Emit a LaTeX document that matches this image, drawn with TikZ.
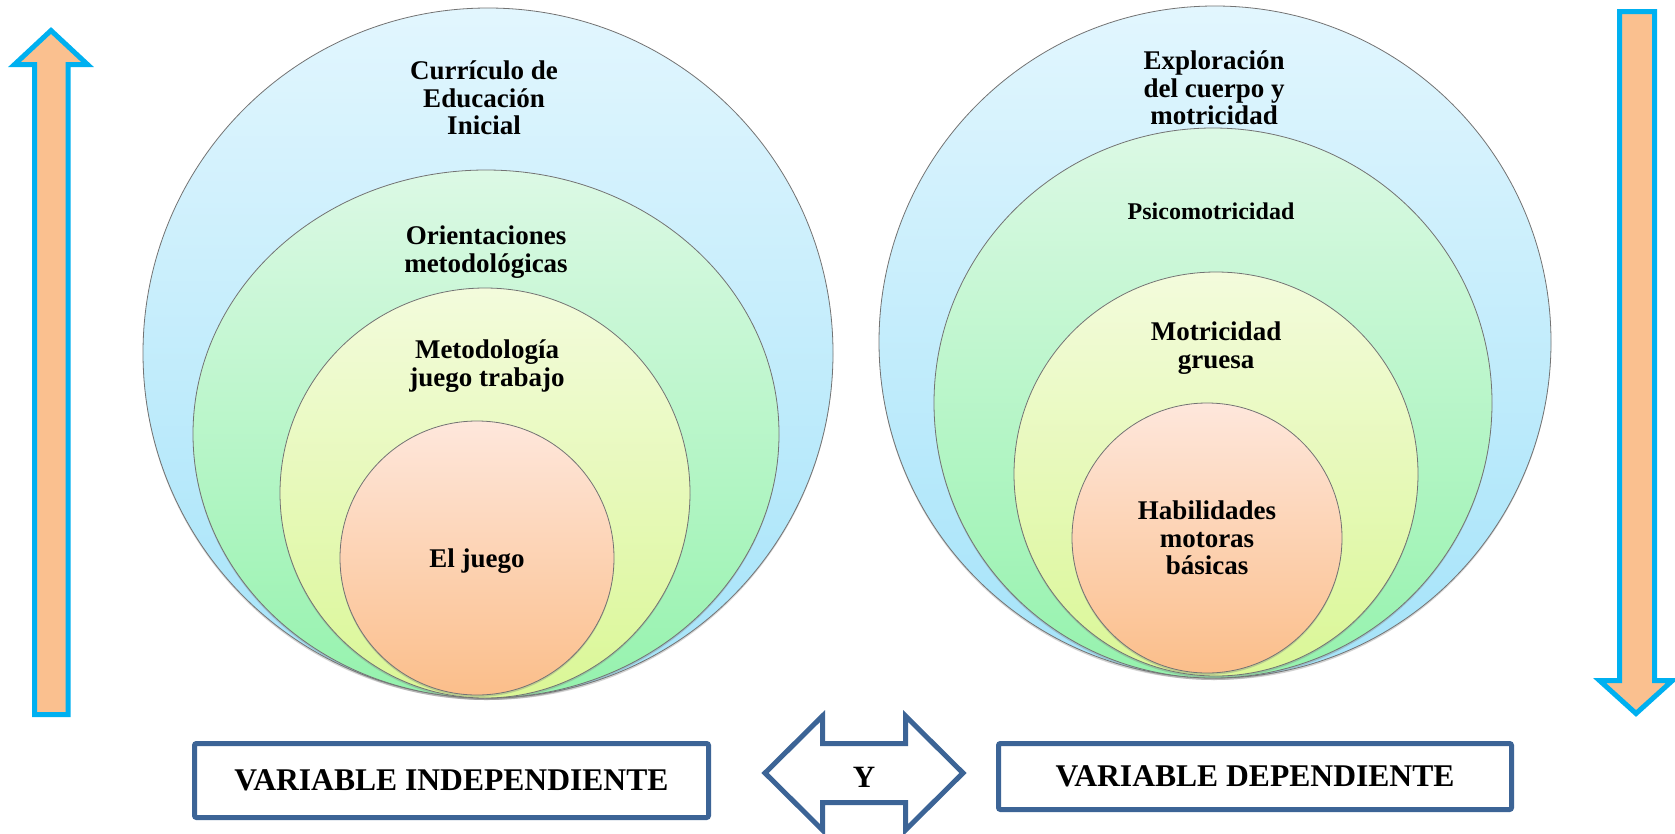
\documentclass[tikz,border=0pt]{standalone}
\usepackage{fontspec}
\setmainfont{Liberation Serif}
\usetikzlibrary{shapes.geometric,shadows}
\definecolor{skytop}{HTML}{E2F6FE}
\definecolor{skybot}{HTML}{A4E3F9}
\definecolor{mintop}{HTML}{DCF9E5}
\definecolor{minbot}{HTML}{95F2AD}
\definecolor{limtop}{HTML}{F3FBDC}
\definecolor{limbot}{HTML}{DAF796}
\definecolor{pchtop}{HTML}{FEE7DC}
\definecolor{pchbot}{HTML}{FBBE8A}
\definecolor{arrowblue}{HTML}{00B0F0}
\definecolor{arrowfill}{HTML}{FAC08F}
\definecolor{navy}{HTML}{3C6496}
\tikzset{
  ring/.style   = {draw=black!55, line width=0.8pt, inner sep=0pt,
                   drop shadow={shadow xshift=0pt, shadow yshift=-2pt, opacity=.35}},
  disc/.style   = {ring, circle, minimum size=#1},
  oval/.style 2 args = {ring, ellipse, minimum width=#1, minimum height=#2},
  sky/.style    = {top color=skytop, bottom color=skybot},
  mint/.style   = {top color=mintop, bottom color=minbot},
  lime/.style   = {top color=limtop, bottom color=limbot},
  peach/.style  = {top color=pchtop, bottom color=pchbot},
  lbl/.style    = {align=center, inner sep=0pt, font=\bfseries\fontsize{27}{27.5}\selectfont},
  varbox/.style = {draw=navy, line width=5pt, rounded corners=2pt, fill=white, minimum width=#1,
                   inner sep=0pt, font=\bfseries\fontsize{31.6}{33}\selectfont},
  bigarrow/.style = {draw=arrowblue, fill=arrowfill, line width=5pt},
}

\begin{document}
\begin{tikzpicture}[x=1pt, y=-1pt]
    \path[use as bounding box, fill=white] (0,0) rectangle (1675,833);

    \draw[bigarrow] (34.5,714.5) -- (34.5,64.5) -- (14.5,64.5) -- (51,30.5) -- (87.5,64.5)
        -- (68,64.5) -- (68,714.5) -- cycle;
    \draw[bigarrow] (1619.5,11.5) -- (1654.5,11.5) -- (1654.5,680.5) -- (1672.5,680.5)
        -- (1636,713.5) -- (1599.5,680.5) -- (1619.5,680.5) -- cycle;

    \node[disc=690pt, sky] (curriculo) at (488,353) {};
    \node[oval={586pt}{528pt}, mint] (orient) at (486,434) {};
    \node[disc=410pt, lime] (metodo) at (485,493) {};
    \node[disc=274pt, peach] (juego) at (477,558) {};

    \node[disc=672pt, sky] (explor) at (1215,342) {};
    \node[oval={558pt}{550pt}, mint] (psico) at (1213,403) {};
    \node[disc=404pt, lime] (motri) at (1216,474) {};
    \node[disc=270pt, peach] (habil) at (1207,538) {};

    \node[lbl] (curriculo-t) at (484,98) {Currículo de\\Educación\\Inicial};
    \node[lbl] (orient-t) at (486,252) {Orientaciones\\metodológicas};
    \node[lbl] (metodo-t) at (487,366) {Metodología\\juego trabajo};
    \node[lbl] (juego-t) at (477,561) {El juego};

    \node[lbl] (explor-t) at (1214,88) {Exploración\\del cuerpo y\\motricidad};
    \node[lbl, font=\bfseries\fontsize{24}{26}\selectfont] (psico-t) at (1211,211) {Psicomotricidad};
    \node[lbl] (motri-t) at (1216,348) {Motricidad\\gruesa};
    \node[lbl] (habil-t) at (1207,538) {Habilidades\\motoras\\básicas};

    \node[varbox=514pt, minimum height=74pt] (indep) at (451.5,780.5) {VARIABLE INDEPENDIENTE};
    \node[varbox=513pt, minimum height=66pt] (dep) at (1255,776.5) {VARIABLE DEPENDIENTE};

    \draw[draw=navy, line width=5pt, fill=white] (765,773) -- (822.5,716) -- (822.5,743.5)
        -- (905.5,743.5) -- (905.5,716) -- (963,773) -- (905.5,830) -- (905.5,802.5)
        -- (822.5,802.5) -- (822.5,830) -- cycle;
    \node[font=\bfseries\fontsize{31}{32}\selectfont, inner sep=0pt] (y) at (864,777) {Y};
  \end{tikzpicture}
\end{document}
